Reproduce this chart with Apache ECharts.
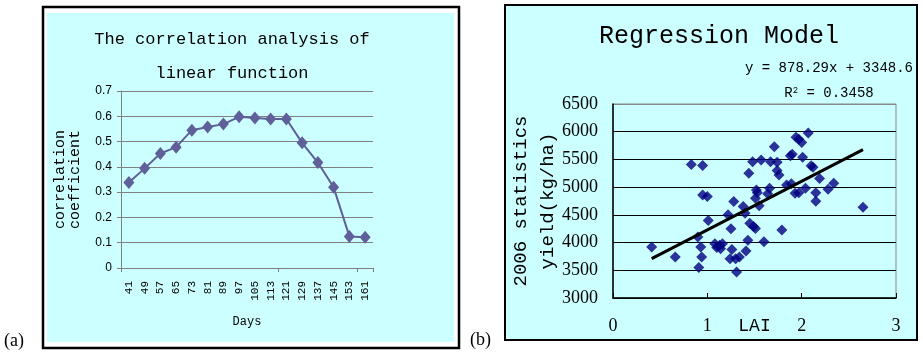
<!DOCTYPE html>
<html>
<head>
<meta charset="utf-8">
<script src="https://cdn.jsdelivr.net/npm/echarts@6/dist/echarts.min.js"></script>
<style>
html,body{margin:0;padding:0;background:#fff;}
#chart{width:923px;height:355px;}
</style>
</head>
<body>
<div id="chart"></div>
<script>
// ---- Panel (a): correlation analysis ----
var days = ['41','49','57','65','73','81','89','97','105','113','121','129','137','145','153','161'];
var corrValues = [0.338,0.394,0.453,0.478,0.545,0.558,0.569,0.598,0.593,0.589,0.589,0.495,0.417,0.319,0.125,0.122];
var corrTicks = [0, 0.7, 0.1]; // min, max, interval

// ---- Panel (b): regression model ----
var laiValues = [0.41,0.66,0.83,0.95,0.95,1.00,0.90,0.93,0.94,0.91,1.01,1.08,1.10,1.13,1.16,1.14,1.22,1.28,1.25,1.26,1.24,1.30,1.34,1.31,1.41,1.38,1.40,1.44,1.43,1.45,1.49,1.51,1.48,1.57,1.52,1.53,1.51,1.55,1.60,1.67,1.71,1.74,1.74,1.76,1.66,1.64,1.79,1.88,1.90,1.84,1.89,1.93,1.97,1.94,1.97,2.00,2.07,2.01,2.04,2.10,2.12,2.19,2.15,2.15,2.28,2.34,2.65];
var yieldValues = [3920,3740,5410,5390,4860,4830,4100,3920,3740,3550,4400,3980,3910,3950,3980,3890,4500,4740,4250,3875,3710,3710,3740,3470,3850,4650,4530,5250,4040,4350,4290,4255,5460,5490,4950,4900,4800,4665,4015,5460,5730,5450,5300,5220,4980,4880,4225,5565,5595,5040,5060,4890,4900,5900,5865,5805,5975,5540,4980,5385,5360,5155,4900,4745,4960,5070,4635];
var trendLAI = [0.41, 2.65];
var trendYield = [3709, 5676];
var laiTicks = [0, 3, 1];
var yieldTicks = [3000, 6500, 500];

var scatterData = laiValues.map(function (v, i) { return [v, yieldValues[i]]; });
var trendData = trendLAI.map(function (v, i) { return [v, trendYield[i]]; });

var mono = "'Liberation Mono', 'DejaVu Sans Mono', monospace";
var serif = "'Liberation Serif', 'DejaVu Serif', serif";

var chart = echarts.init(document.getElementById('chart'));
chart.setOption({
  animation: false,
  backgroundColor: '#ffffff',
  graphic: [
    { type: 'rect', z: -10, shape: { x: 43, y: 7, width: 416, height: 341 }, style: { fill: '#ffffff', stroke: '#000', lineWidth: 2.5 } },
    { type: 'rect', z: -9, shape: { x: 47, y: 13, width: 407, height: 329 }, style: { fill: '#ccffff' } },
    { type: 'rect', z: -10, shape: { x: 505, y: 5, width: 412, height: 335 }, style: { fill: '#ccffff', stroke: '#000', lineWidth: 2 } },
    { type: 'text', z: 5, left: 4, top: 332, style: { text: '(a)', font: '18px ' + serif, fill: '#000' } },
    { type: 'text', z: 5, left: 470, top: 331, style: { text: '(b)', font: '18px ' + serif, fill: '#000' } }
  ],
  title: [
    { text: 'The correlation analysis of\nlinear function', left: 232, top: 22, padding: 0, textAlign: 'center',
      textStyle: { fontFamily: mono, fontSize: 17, fontWeight: 'normal', color: '#000', lineHeight: 34 } },
    { text: 'Regression Model', left: 719, top: 24, padding: 0, textAlign: 'center',
      textStyle: { fontFamily: mono, fontSize: 25, fontWeight: 'normal', color: '#000', lineHeight: 25 } },
    { text: 'y = 878.29x + 3348.6', left: 829, top: 61, padding: 0, textAlign: 'center',
      textStyle: { fontFamily: mono, fontSize: 14, fontWeight: 'normal', color: '#000', lineHeight: 14 } },
    { text: 'R{sup|2} = 0.3458', left: 829, top: 86, padding: 0, textAlign: 'center',
      textStyle: { fontFamily: mono, fontSize: 14, fontWeight: 'normal', color: '#000', lineHeight: 14,
        rich: { sup: { fontFamily: mono, fontSize: 9, verticalAlign: 'top', lineHeight: 14, padding: [0,0,8,0] } } } }
  ],
  grid: [
    { left: 121, right: 550, top: 91, bottom: 87, containLabel: false, outerBoundsMode: 'none' },
    { left: 613, right: 27, top: 104, bottom: 57, containLabel: false, outerBoundsMode: 'none', show: true, borderColor: '#888', borderWidth: 1 }
  ],
  xAxis: [
    { type: 'category', gridIndex: 0, data: days, boundaryGap: true,
      name: 'Days', nameLocation: 'middle', nameGap: 48, nameMoveOverlap: false,
      nameTextStyle: { fontFamily: mono, fontSize: 12, color: '#000' },
      axisLine: { lineStyle: { color: '#808080', width: 1 } },
      axisTick: { show: true, interval: 9, length: 4, lineStyle: { color: '#808080' } },
      axisLabel: { interval: 0, rotate: 90, margin: 13, fontFamily: mono, fontSize: 11, color: '#000' },
      splitLine: { show: false } },
    { type: 'value', gridIndex: 1, min: laiTicks[0], max: laiTicks[1], interval: laiTicks[2],
      name: 'LAI', nameLocation: 'middle', nameGap: 19, nameMoveOverlap: false,
      nameTextStyle: { fontFamily: mono, fontSize: 18, color: '#000', verticalAlign: 'top' },
      axisLine: { lineStyle: { color: '#000', width: 1.5 } },
      axisTick: { show: true, inside: true, length: 5, lineStyle: { color: '#000' } },
      axisLabel: { margin: 19, fontFamily: serif, fontSize: 18, color: '#000' },
      splitLine: { show: false } }
  ],
  yAxis: [
    { type: 'value', gridIndex: 0, min: corrTicks[0], max: corrTicks[1], interval: corrTicks[2],
      name: 'correlation\ncoefficient', nameLocation: 'middle', nameRotate: 90, nameGap: 38, nameMoveOverlap: false,
      nameTextStyle: { fontFamily: mono, fontSize: 15, color: '#000', lineHeight: 15 },
      axisLine: { show: true, lineStyle: { color: '#808080', width: 1 } },
      axisTick: { show: true, length: 4, lineStyle: { color: '#808080' } },
      axisLabel: { margin: 9, fontFamily: "'Liberation Sans', sans-serif", fontSize: 12, color: '#000' },
      splitLine: { show: true, lineStyle: { color: '#808080', width: 1 } } },
    { type: 'value', gridIndex: 1, min: yieldTicks[0], max: yieldTicks[1], interval: yieldTicks[2],
      name: '2006 statistics\nyield(kg/ha)', nameLocation: 'middle', nameRotate: 90, nameGap: 52, nameMoveOverlap: false,
      nameTextStyle: { fontFamily: mono, fontSize: 19, color: '#000', lineHeight: 27 },
      axisLine: { show: true, lineStyle: { color: '#000', width: 1.5 } },
      axisTick: { show: false },
      axisLabel: { margin: 15, fontFamily: serif, fontSize: 18, color: '#000', formatter: function (v) { return String(v); } },
      splitLine: { show: true, lineStyle: { color: ['#000','#000','#000','#000','#000','#000','#000','#888'], width: 1 } } }
  ],
  series: [
    { type: 'line', xAxisIndex: 0, yAxisIndex: 0, data: corrValues,
      symbol: 'diamond', symbolSize: [11, 13],
      lineStyle: { color: '#5f5f99', width: 2 },
      itemStyle: { color: '#5f5f99' } },
    { type: 'scatter', xAxisIndex: 1, yAxisIndex: 1, data: scatterData,
      symbol: 'diamond', symbolSize: 11,
      itemStyle: { color: '#000080' } },
    { type: 'line', xAxisIndex: 1, yAxisIndex: 1, data: trendData,
      symbol: 'none', lineStyle: { color: '#000', width: 3 }, z: 3 }
  ]
});
</script>
</body>
</html>
